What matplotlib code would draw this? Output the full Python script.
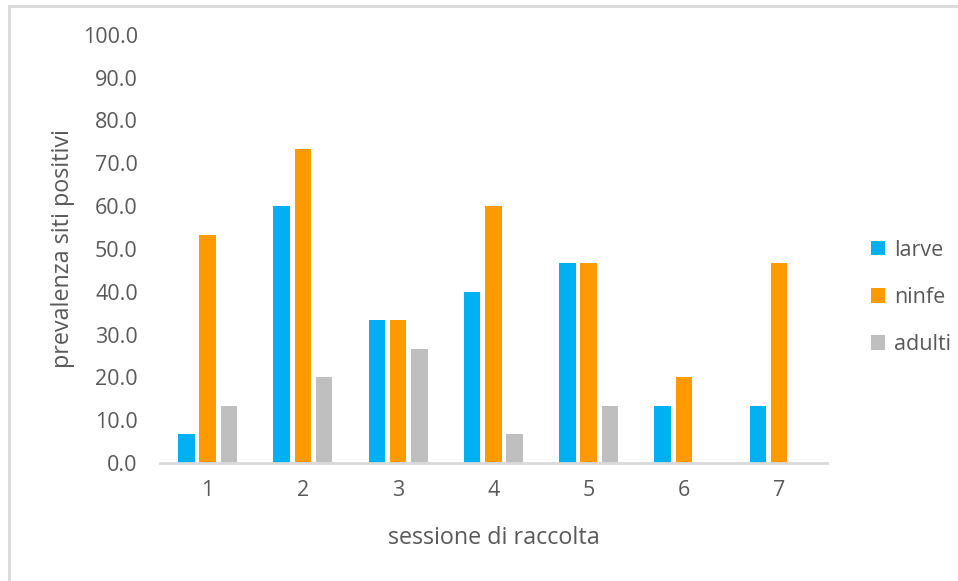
import matplotlib.pyplot as plt
import numpy as np
from matplotlib.patches import Rectangle

plt.rcParams['font.family'] = ['Open Sans', 'DejaVu Sans']

sessions = ['1', '2', '3', '4', '5', '6', '7']
larve = [6.7, 60.0, 33.3, 40.0, 46.7, 13.3, 13.3]
ninfe = [53.3, 73.3, 33.3, 60.0, 46.7, 20.0, 46.7]
adulti = [13.3, 20.0, 26.7, 6.7, 13.3, 0.0, 0.0]

series = [('larve', larve, '#00B0F0'),
          ('ninfe', ninfe, '#FF9900'),
          ('adulti', adulti, '#BFBFBF')]

grey = '#595959'

fig = plt.figure(figsize=(9.58, 5.81), dpi=100)
ax = fig.add_axes([0.167, 0.203, 0.696, 0.737])

x = np.arange(1, len(sessions) + 1)
width = 0.173
step = 0.222
for i, (name, vals, col) in enumerate(series):
    ax.bar(x + (i - 1) * step, vals, width, color=col, label=name)

ax.set_xlim(0.5, 7.5)
ax.set_ylim(0, 100)
ax.set_xticks(x)
ax.set_xticklabels(sessions)
ax.set_yticks(np.arange(0, 101, 10))
ax.set_yticklabels(['%.1f' % v for v in np.arange(0, 101, 10)])
ax.tick_params(axis='both', length=0, labelsize=15.5, colors=grey)
ax.tick_params(axis='x', pad=12)
ax.tick_params(axis='y', pad=16)

for s in ['top', 'right', 'left']:
    ax.spines[s].set_visible(False)
ax.spines['bottom'].set_color('#D9D9D9')
ax.spines['bottom'].set_linewidth(2)

ax.set_xlabel('sessione di raccolta', fontsize=16.8, color=grey)
ax.set_ylabel('prevalenza siti positivi', fontsize=16.8, color=grey)
ax.xaxis.set_label_coords(0.5008, -0.175)
ax.yaxis.set_label_coords(-0.1454, 0.500)
ax.xaxis.label.set_va('center')
ax.yaxis.label.set_va('center')

leg = ax.legend(loc='center left', bbox_to_anchor=(0.889, 0.488),
                bbox_transform=fig.transFigure, frameon=False,
                handlelength=0.65, handleheight=0.65, handletextpad=0.4,
                labelspacing=1.22, fontsize=15.5)
for t in leg.get_texts():
    t.set_color(grey)

# chart border (only top and left visible in the crop)
fig.patches.append(Rectangle((9 / 958, -0.1), 1.2, 1 - 6 / 581 + 0.1,
                             transform=fig.transFigure, fill=False,
                             edgecolor='#D9D9D9', linewidth=2))

fig.savefig('out.png', dpi=100)
